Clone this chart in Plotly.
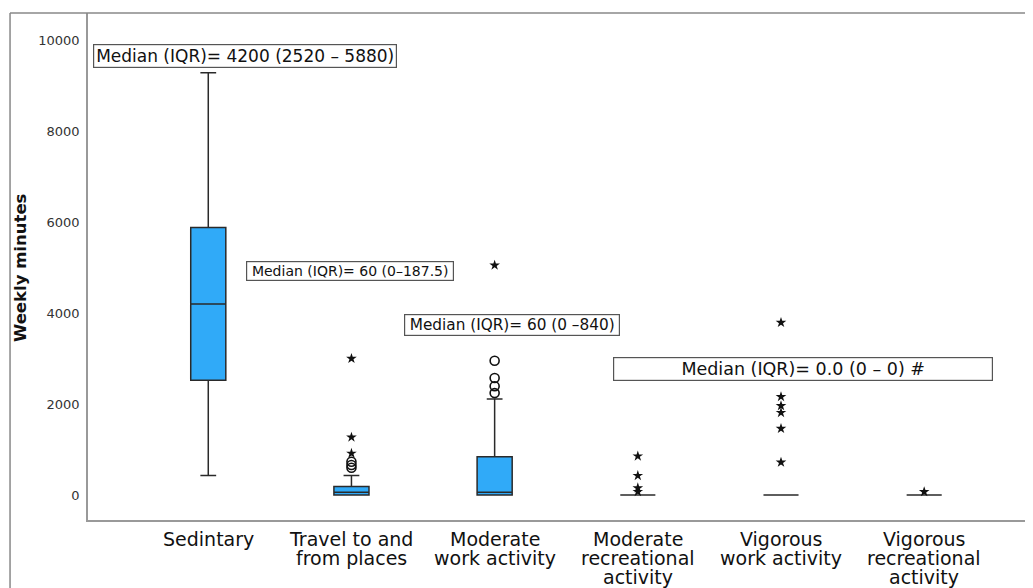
import plotly.graph_objects as go

categories = ["Sedintary", "Travel to and\nfrom places", "Moderate\nwork activity",
              "Moderate\nrecreational\nactivity", "Vigorous\nwork activity",
              "Vigorous\nrecreational\nactivity"]
q1 = [2520, 0, 0, 0, 0, 0]
median = [4200, 60, 60, 0, 0, 0]
q3 = [5880, 187.5, 840, 0, 0, 0]
lowerfence = [430, 0, 0, 0, 0, 0]
upperfence = [9280, 430, 2110, 0, 0, 0]

# outliers (circles = mild, stars = extreme)
circle_cat = [1, 1, 1, 2, 2, 2, 2]
circle_val = [600, 660, 730, 2240, 2390, 2570, 2950]
star_cat = [1, 1, 1, 2, 3, 3, 3, 3, 4, 4, 4, 4, 4, 4, 5]
star_val = [915, 1270, 3000, 5050, 855, 425, 155, 75, 3790, 2160, 1960, 1810, 1460, 720, 70]

ann_text = ["Median (IQR)= 4200 (2520 – 5880)", "Median (IQR)= 60 (0–187.5)",
            "Median (IQR)= 60 (0 –840)", "Median (IQR)= 0.0 (0 – 0) #"]

FONT = "DejaVu Sans"
fig = go.Figure()
for i in range(len(categories)):
    fig.add_trace(go.Box(
        x=[i], q1=[q1[i]], median=[median[i]], q3=[q3[i]],
        lowerfence=[lowerfence[i]], upperfence=[upperfence[i]],
        width=0.245, whiskerwidth=0.45, boxpoints=False,
        fillcolor="#30AAF8", line=dict(color="#2a2a2a", width=1.5),
        showlegend=False, hoverinfo="skip"))

fig.add_trace(go.Scatter(x=circle_cat, y=circle_val, mode="markers",
                         marker=dict(symbol="circle-open", size=9, color="#111",
                                     line=dict(width=1.6, color="#111")),
                         showlegend=False))
fig.add_trace(go.Scatter(x=star_cat, y=star_val, mode="markers",
                         marker=dict(symbol="star", size=8, color="#111"),
                         showlegend=False))

ann_specs = [
    dict(x=0.258, y=9648, w=300, size=17),
    dict(x=0.99, y=4934, w=204, size=14),
    dict(x=2.12, y=3736, w=212, size=15.3),
    dict(x=4.155, y=2780, w=376, size=17.5),
]
for t, s in zip(ann_text, ann_specs):
    fig.add_annotation(x=s["x"], y=s["y"], xref="x", yref="y", text=t, showarrow=False,
                       font=dict(family=FONT, size=s["size"], color="#111"),
                       bordercolor="#555", borderwidth=1.2, borderpad=1,
                       bgcolor="white", width=s["w"], align="center",
                       xanchor="center", yanchor="middle")

# category labels, one annotation per line (tight line spacing as in the reference)
for i, lab in enumerate(categories):
    for k, line in enumerate(lab.split("\n")):
        fig.add_annotation(x=i, y=0, xref="x", yref="paper", text=line, showarrow=False,
                           font=dict(family=FONT, size=19, color="#111"),
                           xanchor="center", yanchor="middle", yshift=-(19 + 19 * k))

fig.add_annotation(x=-0.072, y=0.499, xref="paper", yref="paper", text="<b>Weekly minutes</b>",
                   textangle=-90, showarrow=False, font=dict(family=FONT, size=16.5, color="#111"),
                   xanchor="center", yanchor="middle")

# outer frame (left and top)
fig.add_shape(type="line", xref="paper", yref="paper", x0=-0.0825, x1=-0.0825, y0=1, y1=-0.2,
              line=dict(color="#888", width=1.5))
fig.add_shape(type="line", xref="paper", yref="paper", x0=-0.0825, x1=1.0, y0=1, y1=1,
              line=dict(color="#888", width=1.5))

fig.update_layout(
    width=1033, height=588,
    margin=dict(l=80, r=8, t=5, b=76),
    paper_bgcolor="white", plot_bgcolor="white",
    font=dict(family=FONT),
    xaxis=dict(range=[-0.84, 5.76], showticklabels=False,
               showgrid=False, zeroline=False, showline=True,
               linecolor="#999", linewidth=1.5, ticks=""),
    yaxis=dict(range=[-549, 10593], tickvals=[0, 2000, 4000, 6000, 8000, 10000],
               tickformat="d", showgrid=False, zeroline=False, showline=True,
               linecolor="#999", linewidth=1.5, ticks="", ticklabelstandoff=4,
               tickfont=dict(family=FONT, size=13, color="#333")),
)

fig.write_html("out.html")
